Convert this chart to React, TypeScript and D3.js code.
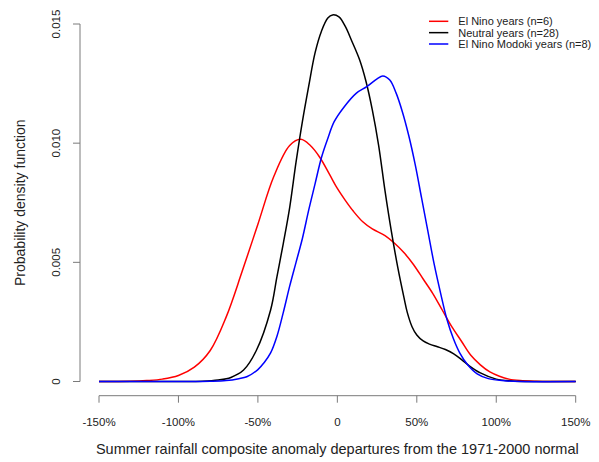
import { useEffect, useRef } from 'react';
import * as d3 from 'd3';

// rainfall anomaly (%) and density
const elNinoX = [-150, -130, -120, -110, -100, -90, -80, -70, -60, -50, -40, -30, -23, -17, -11, -5, 0, 5, 10, 16, 22, 30, 36, 42, 48, 54, 60, 66, 72, 78, 84, 90, 96, 102, 108, 115, 125, 135, 150];
const elNinoY = [0, 0.00001, 0.00004, 0.0001, 0.00025, 0.0006, 0.0013, 0.0027, 0.0046, 0.0066, 0.0086, 0.0099, 0.01016, 0.0099, 0.0094, 0.0087, 0.0081, 0.0076, 0.00715, 0.0067, 0.0064, 0.00612, 0.0058, 0.0054, 0.0049, 0.0043, 0.0037, 0.003, 0.0023, 0.0017, 0.0011, 0.0007, 0.0004, 0.00022, 0.0001, 0.00004, 0.00001, 0, 0];

const neutralX = [-150, -100, -85, -75, -67, -59, -51, -42, -38, -34, -30, -26, -22, -18, -14, -10, -6, -3, 1, 5, 9, 14, 18, 22, 26, 30, 34, 38, 42, 44, 47, 50, 54, 58, 63, 68, 73, 78, 83, 90, 100, 110, 120, 150];
const neutralY = [0, 0, 0.00001, 0.00006, 0.00017, 0.00048, 0.0013, 0.003, 0.0044, 0.0058, 0.0073, 0.0092, 0.0109, 0.0124, 0.0138, 0.0147, 0.01525, 0.01538, 0.0153, 0.0149, 0.0143, 0.0135, 0.0126, 0.0114, 0.0099, 0.008, 0.0063, 0.0048, 0.0035, 0.0029, 0.0023, 0.00195, 0.0017, 0.00157, 0.00146, 0.00134, 0.00117, 0.00093, 0.00066, 0.00036, 0.0001, 0.00002, 0, 0];

const modokiX = [-150, -100, -80, -70, -62, -57, -50, -46, -42, -38, -34, -30, -26, -22, -18, -14, -10, -6, -2, 4, 12, 18.5, 25, 28.6, 33, 37, 41, 45, 49, 53, 57, 61, 65, 69, 73, 77, 82, 88, 95, 105, 115, 150];
const modokiY = [0, 0, 0.00001, 0.00004, 0.00012, 0.0002, 0.0005, 0.0008, 0.0012, 0.0019, 0.0029, 0.004, 0.005, 0.006, 0.0072, 0.0083, 0.0094, 0.0102, 0.0109, 0.0115, 0.0121, 0.01237, 0.0127, 0.01282, 0.01265, 0.0121, 0.0113, 0.0103, 0.0091, 0.0077, 0.0063, 0.0049, 0.0037, 0.0026, 0.0018, 0.0012, 0.0007, 0.00032, 0.00012, 0.00003, 0, 0];

const seriesNames = ['El Nino years (n=6)', 'Neutral years (n=28)', 'El Nino Modoki years (n=8)'];
const seriesColors = ['#ff0000', '#000000', '#0000ff'];

const xTicks = [-150, -100, -50, 0, 50, 100, 150];
const yTicks = [0, 0.005, 0.01, 0.015];
const yTickLabels = ['0', '0.005', '0.010', '0.015'];

const FONT = '"Liberation Sans", Arial, Helvetica, sans-serif';

export default function App() {
  const ref = useRef<SVGSVGElement>(null);

  useEffect(() => {
    const svg = d3.select(ref.current);
    svg.selectAll('*').remove();

    const x = d3.scaleLinear().domain([-150, 150]).range([99, 575.7]);
    const y = d3.scaleLinear().domain([0, 0.015]).range([381.5, 24]);
    const axisY = 395.7;
    const axisX = 80;
    const axisColor = '#7a7a7a';
    const textColor = '#222';

    // y axis
    svg.append('line').attr('x1', axisX).attr('x2', axisX).attr('y1', y(0)).attr('y2', y(0.015))
      .attr('stroke', axisColor).attr('stroke-width', 1);
    yTicks.forEach((t, i) => {
      svg.append('line').attr('x1', axisX - 7).attr('x2', axisX).attr('y1', y(t)).attr('y2', y(t))
        .attr('stroke', axisColor).attr('stroke-width', 1);
      svg.append('text').attr('transform', `translate(59.5,${y(t)}) rotate(-90)`)
        .attr('text-anchor', 'middle').style('font-family', FONT).style('font-size', '11.5px')
        .style('fill', textColor).text(yTickLabels[i]);
    });

    // x axis
    svg.append('line').attr('x1', x(-150)).attr('x2', x(150)).attr('y1', axisY).attr('y2', axisY)
      .attr('stroke', axisColor).attr('stroke-width', 1);
    xTicks.forEach(t => {
      svg.append('line').attr('x1', x(t)).attr('x2', x(t)).attr('y1', axisY).attr('y2', axisY + 7)
        .attr('stroke', axisColor).attr('stroke-width', 1);
      svg.append('text').attr('x', x(t)).attr('y', 426)
        .attr('text-anchor', 'middle').style('font-family', FONT).style('font-size', '11.5px')
        .style('fill', textColor).text(t === 0 ? '0' : `${t}%`);
    });

    // axis titles
    svg.append('text').attr('x', x(0)).attr('y', 453.5).attr('text-anchor', 'middle')
      .style('font-family', FONT).style('font-size', '14.5px').style('fill', textColor)
      .text('Summer rainfall composite anomaly departures from the 1971-2000 normal');
    svg.append('text').attr('transform', `translate(25,${(y(0) + y(0.015)) / 2}) rotate(-90)`)
      .attr('text-anchor', 'middle').style('font-family', FONT).style('font-size', '14px')
      .style('fill', textColor).text('Probability density function');

    // curves
    const line = d3.line<[number, number]>()
      .x(d => x(d[0])).y(d => y(Math.max(0, d[1]))).curve(d3.curveCatmullRom.alpha(0.5));
    const series: [number, number][][] = [
      elNinoX.map((v, i) => [v, elNinoY[i]]),
      neutralX.map((v, i) => [v, neutralY[i]]),
      modokiX.map((v, i) => [v, modokiY[i]]),
    ];
    series.forEach((s, i) => {
      svg.append('path').attr('d', line(s)).attr('fill', 'none')
        .attr('stroke', seriesColors[i]).attr('stroke-width', 1.5);
    });

    // legend
    seriesNames.forEach((name, i) => {
      const ly = 21.3 + i * 11.35;
      svg.append('line').attr('x1', 429).attr('x2', 448.3).attr('y1', ly).attr('y2', ly)
        .attr('stroke', seriesColors[i]).attr('stroke-width', 1.5);
      svg.append('text').attr('x', 458.3).attr('y', ly + 3.9)
        .style('font-family', FONT).style('font-size', '11px').style('fill', textColor).text(name);
    });
  }, []);

  return (
    <svg ref={ref} width={599} height={462}
      style={{ position: 'absolute', left: 0, top: 0, background: '#fff' }} />
  );
}
